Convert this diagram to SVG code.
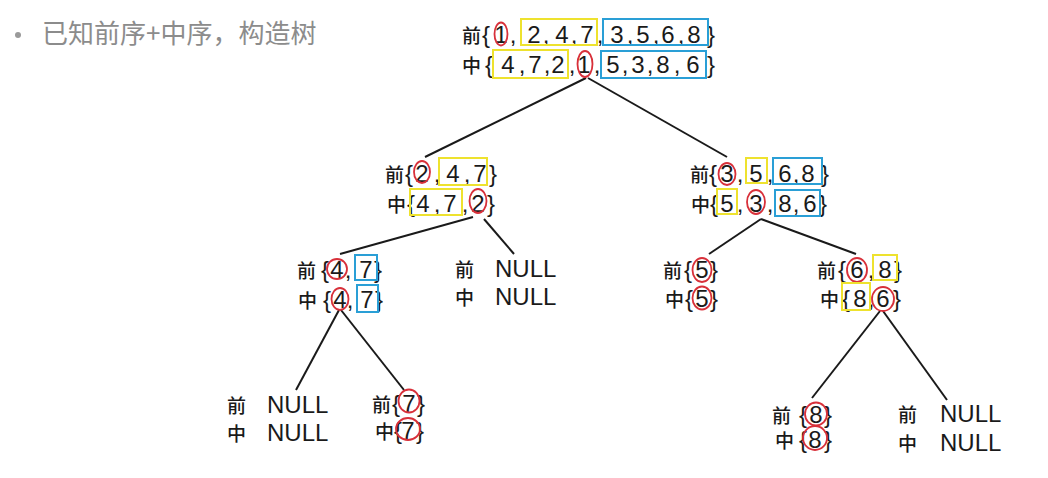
<svg xmlns="http://www.w3.org/2000/svg" width="1048" height="478" viewBox="0 0 1048 478">
<style>
.cj{font-family:"Noto Sans CJK SC","Noto Sans",sans-serif;font-size:19px;font-weight:500;fill:#1a1a1a}
.d{font-family:"Liberation Sans",Arial,sans-serif;font-size:24px;fill:#1a1a1a;text-anchor:middle}
.n{font-family:"Liberation Sans",Arial,sans-serif;font-size:24px;fill:#1a1a1a}
.y{fill:none;stroke:#eee22e;stroke-width:2}
.b{fill:none;stroke:#2a9fd6;stroke-width:2}
.r{fill:none;stroke:#d8303a;stroke-width:1.8}
.ln{stroke:#1a1a1a;stroke-width:2;fill:none}
.title{font-family:"Noto Sans CJK SC","Noto Sans",sans-serif;font-size:26px;fill:#8c8c8c}
</style>
<rect width="1048" height="478" fill="#ffffff"/>
<g id="title">
<circle cx="18" cy="35" r="3" fill="#9a9a9a"/>
<text class="title" x="42" y="43">已知前序+中序，构造树</text>
</g>
<g id="connectors">
<line class="ln" x1="586" y1="78" x2="425" y2="157"/>
<line class="ln" x1="588" y1="78" x2="727" y2="157"/>
<line class="ln" x1="473" y1="217" x2="340" y2="254"/>
<line class="ln" x1="484" y1="219" x2="514" y2="254"/>
<line class="ln" x1="761" y1="219" x2="709" y2="254"/>
<line class="ln" x1="761" y1="219" x2="856" y2="254"/>
<line class="ln" x1="339" y1="310" x2="296" y2="390"/>
<line class="ln" x1="341" y1="310" x2="404" y2="390"/>
<line class="ln" x1="880" y1="311" x2="812" y2="398"/>
<line class="ln" x1="883" y1="311" x2="947" y2="400"/>
</g>
<g id="root">
<text class="cj" x="462" y="43">前</text>
<text class="d" x="486 501 513 534 546 562 574 587 600 617 630 643 656 668 681 694 711" y="43">{1,2,4,7,3,5,6,8}</text>
<ellipse class="r" cx="501" cy="34" rx="6.5" ry="11.5"/>
<rect class="y" x="521" y="19" width="76" height="26"/>
<rect class="b" x="603" y="19" width="105" height="26"/>
<text class="cj" x="462" y="73">中</text>
<text class="d" x="489 508 522 535 547 558 572 584 597 613 625 638 650 663 677 693 711" y="73">{4,7,2,1,5,3,8,6}</text>
<rect class="y" x="493" y="50" width="75" height="28"/>
<ellipse class="r" cx="585" cy="64" rx="7.5" ry="13"/>
<rect class="b" x="601" y="51" width="105" height="27"/>
</g>
<g id="n-left1">
<text class="cj" x="385" y="182">前</text>
<text class="d" x="409 422 437 453 467 480 493" y="182">{2,4,7}</text>
<ellipse class="r" cx="422" cy="172" rx="8" ry="11"/>
<rect class="y" x="439" y="158" width="48" height="27"/>
<text class="cj" x="387" y="212">中</text>
<text class="d" x="411 423 437 450 465 478 491" y="212">{4,7,2}</text>
<rect class="y" x="410" y="189" width="52" height="26"/>
<ellipse class="r" cx="478" cy="201" rx="8.5" ry="12"/>
</g>
<g id="n-right1">
<text class="cj" x="690" y="182">前</text>
<text class="d" x="713 727 740 756 770 785 796 808 825" y="182">{3,5,6,8}</text>
<ellipse class="r" cx="727" cy="174" rx="8.5" ry="11"/>
<rect class="y" x="746" y="158" width="21" height="25"/>
<rect class="b" x="773" y="158" width="49" height="26"/>
<text class="cj" x="691" y="212">中</text>
<text class="d" x="714 727 740 756 770 785 796 810 823" y="212">{5,3,8,6}</text>
<rect class="y" x="717" y="189" width="20" height="25"/>
<ellipse class="r" cx="756" cy="202" rx="9" ry="12"/>
<rect class="b" x="775" y="190" width="45" height="26"/>
</g>
<g id="n-47">
<text class="cj" x="297" y="278">前</text>
<text class="d" x="325 337 348 366 378" y="278">{4,7}</text>
<ellipse class="r" cx="337" cy="269" rx="10" ry="10"/>
<rect class="b" x="355" y="255" width="22" height="25"/>
<text class="cj" x="298" y="308">中</text>
<text class="d" x="327 340 350 367 379" y="308">{4,7}</text>
<ellipse class="r" cx="340" cy="299" rx="8.5" ry="11"/>
<rect class="b" x="357" y="285" width="21" height="27"/>
</g>
<g id="n-null1">
<text class="cj" x="455" y="277">前</text>
<text class="n" x="495" y="277">NULL</text>
<text class="cj" x="455" y="305">中</text>
<text class="n" x="495" y="305">NULL</text>
</g>
<g id="n-5">
<text class="cj" x="663" y="278">前</text>
<text class="d" x="688 702 714" y="278">{5}</text>
<ellipse class="r" cx="702" cy="270" rx="9.5" ry="12"/>
<text class="cj" x="665" y="307">中</text>
<text class="d" x="689 702 714" y="307">{5}</text>
<ellipse class="r" cx="702" cy="298" rx="9.5" ry="11.5"/>
</g>
<g id="n-68">
<text class="cj" x="817" y="278">前</text>
<text class="d" x="842 857 871 885 898" y="278">{6,8}</text>
<ellipse class="r" cx="857" cy="270" rx="10" ry="12"/>
<rect class="y" x="873" y="255" width="24" height="25"/>
<text class="cj" x="820" y="307">中</text>
<text class="d" x="846 860 871 883 897" y="307">{8,6}</text>
<rect class="y" x="842" y="283" width="28" height="27"/>
<ellipse class="r" cx="883" cy="299" rx="11" ry="12"/>
</g>
<g id="n-null2">
<text class="cj" x="227" y="413">前</text>
<text class="n" x="267" y="413">NULL</text>
<text class="cj" x="227" y="441">中</text>
<text class="n" x="267" y="441">NULL</text>
</g>
<g id="n-7">
<text class="cj" x="372" y="412">前</text>
<text class="d" x="396 409 421" y="412">{7}</text>
<ellipse class="r" cx="409" cy="401" rx="10.5" ry="11.5"/>
<text class="cj" x="375" y="439">中</text>
<text class="d" x="398 408 420" y="439">{7}</text>
<ellipse class="r" cx="408" cy="429" rx="12" ry="11"/>
</g>
<g id="n-8">
<text class="cj" x="772" y="423">前</text>
<text class="d" x="803 816 828" y="423">{8}</text>
<ellipse class="r" cx="816" cy="414" rx="11" ry="11.5"/>
<text class="cj" x="775" y="448">中</text>
<text class="d" x="803 815 828" y="448">{8}</text>
<ellipse class="r" cx="815" cy="438" rx="12" ry="12"/>
</g>
<g id="n-null3">
<text class="cj" x="898" y="422">前</text>
<text class="n" x="940" y="422">NULL</text>
<text class="cj" x="898" y="451">中</text>
<text class="n" x="940" y="451">NULL</text>
</g>
</svg>
